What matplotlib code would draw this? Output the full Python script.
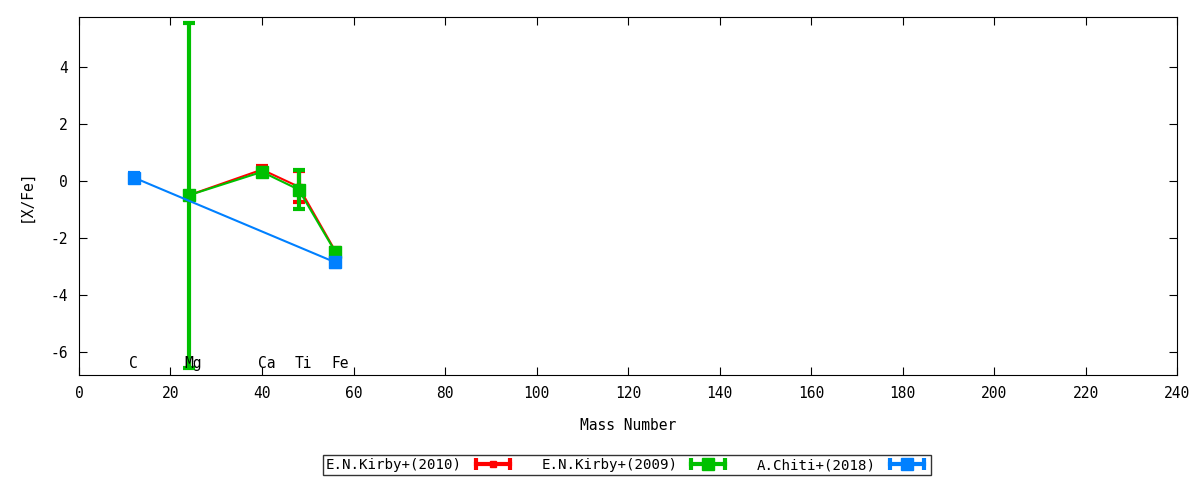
import matplotlib.pyplot as plt
from matplotlib.lines import Line2D
from matplotlib.legend_handler import HandlerLine2D, HandlerTuple

# element labels and mass numbers
elements = ['C', 'Mg', 'Ca', 'Ti', 'Fe']
label_x = [12, 25, 41, 49, 57]

# E.N.Kirby+(2010)
kirby10_x = [24, 40, 48, 56]
kirby10_y = [-0.5, 0.4, -0.2, -2.45]
kirby10_err = [0.1, 0.12, 0.55, 0.1]

# E.N.Kirby+(2009)
kirby09_x = [24, 40, 48, 56]
kirby09_y = [-0.5, 0.32, -0.3, -2.48]
kirby09_err = [6.05, 0.12, 0.68, 0.1]

# A.Chiti+(2018)
chiti_x = [12, 56]
chiti_y = [0.12, -2.85]
chiti_err = [0.15, 0.15]

series_labels = ['E.N.Kirby+(2010)', 'E.N.Kirby+(2009)', 'A.Chiti+(2018)']
colors = ['#ff0000', '#00c000', '#0080ff']

plt.rcParams['font.family'] = 'DejaVu Sans Mono'
plt.rcParams['font.size'] = 10.5
plt.rcParams['axes.unicode_minus'] = False

fig = plt.figure(figsize=(12, 4.8), dpi=100)
ax = fig.add_axes([0.0658, 0.2188, 0.9152, 0.7458])

ax.errorbar(kirby10_x, kirby10_y, yerr=kirby10_err, color=colors[0], lw=1.5,
            elinewidth=3, capsize=4, capthick=3, marker='s', ms=5)
ax.errorbar(kirby09_x, kirby09_y, yerr=kirby09_err, color=colors[1], lw=1.5,
            elinewidth=3, capsize=4, capthick=3, marker='s', ms=8)
ax.errorbar(chiti_x, chiti_y, yerr=chiti_err, color=colors[2], lw=1.5,
            elinewidth=3, capsize=4, capthick=3, marker='s', ms=8)

for el, x in zip(elements, label_x):
    ax.text(x, -6.4, el, ha='center', va='center')

ax.set_xlim(0, 240)
ax.set_ylim(-6.8, 5.75)
ax.set_xticks(range(0, 241, 20))
ax.set_yticks(range(-6, 5, 2))
ax.tick_params(direction='in', top=True, right=True, length=6, pad=8)
ax.set_xlabel('Mass Number', labelpad=12)
ax.set_ylabel('[X/Fe]', labelpad=12)

# gnuplot-like legend samples: horizontal bar with caps and a marker in the middle
handles = []
hmap = {}
for c, ms in zip(colors, [5, 8, 8]):
    bar = Line2D([], [], color=c, lw=3, marker='|', ms=8, mew=3)
    pt = Line2D([], [], color=c, ls='none', marker='s', ms=ms)
    hmap[bar] = HandlerLine2D(numpoints=2)
    hmap[pt] = HandlerLine2D(numpoints=1)
    handles.append((bar, pt))
hmap[tuple] = HandlerTuple(ndivide=1, pad=0)

leg = fig.legend(handles, series_labels, handler_map=hmap,
                 loc='center', bbox_to_anchor=(0.5225, 0.031), ncol=3,
                 markerfirst=False, frameon=True, fancybox=False,
                 edgecolor='black', handlelength=3.0, columnspacing=1.9,
                 borderpad=0.2, handletextpad=0.7, fontsize=10.2)
leg.get_frame().set_linewidth(1)

fig.savefig('out.png', dpi=100)
